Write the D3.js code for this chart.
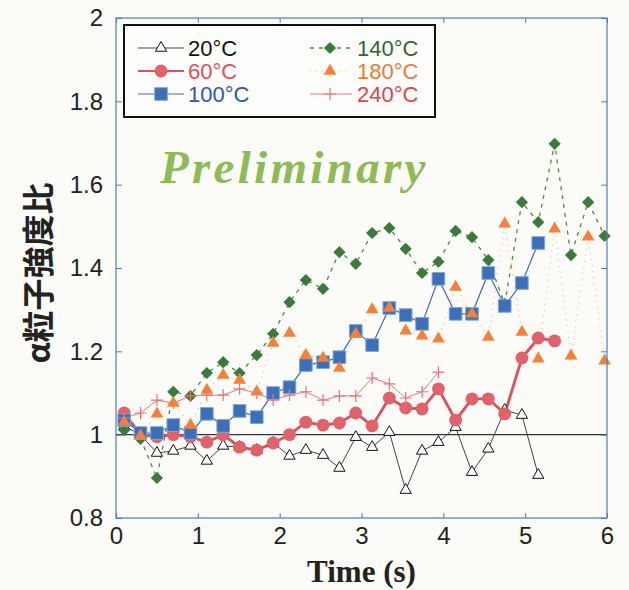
<!DOCTYPE html>
<html>
<head>
<meta charset="utf-8">
<script src="https://cdn.jsdelivr.net/npm/d3@7"></script>
<style>
  body { margin: 0; background: #fbfbf8; }
  svg { display: block; }
</style>
</head>
<body>
<svg></svg>
<script>
// sample times (s), shared by all series
let times = [0.10, 0.30, 0.50, 0.70, 0.91, 1.11, 1.31, 1.51, 1.72, 1.92,
             2.12, 2.32, 2.53, 2.73, 2.93, 3.13, 3.34, 3.54, 3.74, 3.94,
             4.15, 4.35, 4.55, 4.75, 4.96, 5.16, 5.36, 5.56, 5.77, 5.97]

let v20 = [1.02, 1.0, 0.956, 0.961, 0.973, 0.937, 0.973, 0.970, 0.963, 0.980,
           0.949, 0.963, 0.951, 0.920, 0.994, 0.970, 1.006, 0.867, 0.961, 0.982,
           1.018, 0.910, 0.966, 1.059, 1.047, 0.903]
let v60 = [1.052, 1.0, 0.995, 1.0, 0.995, 0.982, 1.0, 0.970, 0.963, 0.98,
           1.0, 1.03, 1.023, 1.028, 1.052, 1.021, 1.088, 1.064, 1.062, 1.11,
           1.035, 1.086, 1.086, 1.05, 1.184, 1.232, 1.225]
let v100 = [1.035, 1.004, 1.004, 1.023, 1.004, 1.05, 1.021, 1.057, 1.042, 1.10,
            1.114, 1.167, 1.174, 1.186, 1.249, 1.215, 1.304, 1.287, 1.266, 1.374,
            1.29, 1.29, 1.388, 1.309, 1.364, 1.46]
let v140 = [1.011, 0.99, 0.896, 1.103, 1.093, 1.148, 1.174, 1.148, 1.191, 1.242,
            1.318, 1.371, 1.35, 1.438, 1.41, 1.484, 1.496, 1.446, 1.388, 1.415,
            1.489, 1.474, 1.419, 1.314, 1.558, 1.51, 1.698, 1.431, 1.558, 1.477]
let v180 = [1.03, 0.997, 1.05, 1.076, 1.023, 1.107, 1.143, 1.131, 1.103, 1.22,
            1.244, 1.191, 1.184, 1.16, 1.242, 1.30, 1.304, 1.249, 1.237, 1.23,
            1.354, 1.29, 1.234, 1.506, 1.246, 1.182, 1.494, 1.189, 1.475, 1.177]
let v240 = [1.04, 1.052, 1.083, 1.076, 1.093, 1.095, 1.095, 1.11, 1.10, 1.083,
            1.095, 1.103, 1.083, 1.093, 1.093, 1.136, 1.122, 1.088, 1.103, 1.15]

let xTicks = [0, 1, 2, 3, 4, 5, 6]
let yTicks = [0.8, 1, 1.2, 1.4, 1.6, 1.8, 2]

let width = 629
let height = 590
let padLeft = 116, padRight = 607, padTop = 18, padBottom = 518

let svg = d3.select('svg').attr('width', width).attr('height', height)

let xScale = d3.scaleLinear().domain([0, 6]).range([padLeft, padRight])
let yScale = d3.scaleLinear().domain([0.8, 2]).range([padBottom, padTop])

let frameColor = '#4a7fc0'

// series styles
let series = [
  { name: '20\u00B0C', values: v20, color: '#111', line: '#444', lw: 1, dash: null, marker: 'triangle', fill: '#fff', size: 55 },
  { name: '60\u00B0C', values: v60, color: '#e0505a', line: '#e05058', lw: 2.8, dash: null, marker: 'circle', fill: '#e0626a', size: 130 },
  { name: '140\u00B0C', values: v140, color: '#2f6a30', line: '#4f8a48', lw: 1.3, dash: '4,5', marker: 'diamond', fill: '#3b7a3a', size: 75 },
  { name: '100\u00B0C', values: v100, color: '#2a5aa8', line: '#3a6db5', lw: 1.2, dash: null, marker: 'square', fill: '#3d6fb8', size: 160 },
  { name: '240\u00B0C', values: v240, color: '#e04444', line: '#f07a7a', lw: 1, dash: null, marker: 'cross', fill: '#f07070', size: 110 },
  { name: '180\u00B0C', values: v180, color: '#f07a30', line: '#f5b58a', lw: 1.2, dash: '1,5', marker: 'triangle', fill: '#f5803a', size: 70 }
]

let symbolType = (m) => {
  if (m === 'triangle') return d3.symbolTriangle
  if (m === 'circle') return d3.symbolCircle
  if (m === 'diamond') return d3.symbolSquare
  if (m === 'square') return d3.symbolSquare
  return d3.symbolCross
}

let drawMarker = (g, s, x, y) => {
  let p = g.append('path')
    .attr('d', d3.symbol().type(symbolType(s.marker)).size(s.size)())
    .attr('transform', 'translate(' + x + ',' + y + ')' + (s.marker === 'diamond' ? ' rotate(45)' : ''))
  if (s.marker === 'cross') {
    p.attr('d', 'M-6,0H6M0,-6V6').attr('stroke', s.fill).attr('stroke-width', 1.2).attr('fill', 'none')
  } else if (s.fill === '#fff') {
    p.attr('fill', '#fff').attr('stroke', s.color).attr('stroke-width', 1)
  } else {
    p.attr('fill', s.fill).attr('stroke', s.marker === 'square' ? '#7fa6d8' : 'none').attr('stroke-width', 1)
  }
}

// reference line at 1
svg.append('line')
  .attr('x1', padLeft).attr('x2', padRight)
  .attr('y1', yScale(1)).attr('y2', yScale(1))
  .attr('stroke', '#333').attr('stroke-width', 1.2)

// data
let plot = svg.append('g')
let lineGen = d3.line().x((d) => xScale(d[0])).y((d) => yScale(d[1]))
series.forEach((s) => {
  let pts = s.values.map((v, i) => [times[i], v])
  plot.append('path')
    .datum(pts)
    .attr('d', lineGen)
    .attr('fill', 'none')
    .attr('stroke', s.line)
    .attr('stroke-width', s.lw)
    .attr('stroke-dasharray', s.dash)
})
series.forEach((s) => {
  let g = plot.append('g')
  s.values.forEach((v, i) => drawMarker(g, s, xScale(times[i]), yScale(v)))
})

// frame and axes
svg.append('rect')
  .attr('x', padLeft).attr('y', padTop)
  .attr('width', padRight - padLeft).attr('height', padBottom - padTop)
  .attr('fill', 'none').attr('stroke', frameColor).attr('stroke-width', 1.2)

let styleAxis = (g) => {
  g.select('.domain').remove()
  g.selectAll('line').attr('stroke', frameColor)
  g.selectAll('text').attr('fill', '#222')
    .style('font-family', '"Liberation Sans", Arial, sans-serif')
    .style('font-size', '24px')
}

svg.append('g')
  .attr('transform', 'translate(0,' + padBottom + ')')
  .call(d3.axisBottom(xScale).tickValues(xTicks).tickFormat(d3.format('d')).tickSize(-5).tickPadding(9))
  .call(styleAxis)
svg.append('g')
  .attr('transform', 'translate(0,' + padTop + ')')
  .call(d3.axisTop(xScale).tickValues(xTicks).tickFormat('').tickSize(-5))
  .call(styleAxis)
svg.append('g')
  .attr('transform', 'translate(' + padLeft + ',0)')
  .call(d3.axisLeft(yScale).tickValues(yTicks).tickFormat((d) => d3.format('')(+d.toFixed(1))).tickSize(-6).tickPadding(13))
  .call(styleAxis)
svg.append('g')
  .attr('transform', 'translate(' + padRight + ',0)')
  .call(d3.axisRight(yScale).tickValues(yTicks).tickFormat('').tickSize(-6))
  .call(styleAxis)

// axis titles
svg.append('text')
  .attr('x', (padLeft + padRight) / 2).attr('y', 582)
  .attr('text-anchor', 'middle')
  .style('font-family', '"Liberation Serif", "Times New Roman", serif')
  .style('font-weight', 'bold')
  .style('font-size', '31px')
  .attr('fill', '#222')
  .text('Time (s)')

svg.append('text')
  .attr('transform', 'translate(50,273) rotate(-90)')
  .attr('text-anchor', 'middle')
  .style('font-family', '"Noto Sans CJK JP", sans-serif')
  .style('font-weight', 'bold')
  .style('font-size', '32px')
  .attr('fill', '#222')
  .text('α粒子強度比')

// watermark
svg.append('text')
  .attr('x', 160).attr('y', 183)
  .style('font-family', '"Liberation Serif", "Times New Roman", serif')
  .style('font-style', 'italic')
  .style('font-weight', 'bold')
  .style('font-size', '47px')
  .style('letter-spacing', '3.3px')
  .attr('fill', '#8dbb55')
  .text('Preliminary')

// legend
let legend = svg.append('g')
legend.append('rect')
  .attr('x', 124).attr('y', 25).attr('width', 311).attr('height', 92)
  .attr('fill', '#fdfdfb').attr('stroke', '#111').attr('stroke-width', 2)

let legendItems = [
  { s: series[0], col: 0, row: 0 },
  { s: series[1], col: 0, row: 1 },
  { s: series[3], col: 0, row: 2 },
  { s: series[2], col: 1, row: 0 },
  { s: series[5], col: 1, row: 1 },
  { s: series[4], col: 1, row: 2 }
]
legendItems.forEach((it) => {
  let cy = 48 + it.row * 23
  let x0 = it.col === 0 ? 138 : 310
  let x1 = it.col === 0 ? 184 : 352
  let mx = it.col === 0 ? 161 : 330
  let lg = legend.append('g')
  lg.append('line')
    .attr('x1', x0).attr('x2', x1).attr('y1', cy).attr('y2', cy)
    .attr('stroke', it.s.line).attr('stroke-width', Math.min(it.s.lw, 2))
    .attr('stroke-dasharray', it.s.dash)
  drawMarker(lg, it.s, mx, cy)
  lg.append('text')
    .attr('x', it.col === 0 ? 188 : 357).attr('y', cy + 8)
    .style('font-family', '"Liberation Sans", Arial, sans-serif')
    .style('font-size', '22px')
    .attr('fill', it.s.color)
    .text(it.s.name)
})
</script>
</body>
</html>
